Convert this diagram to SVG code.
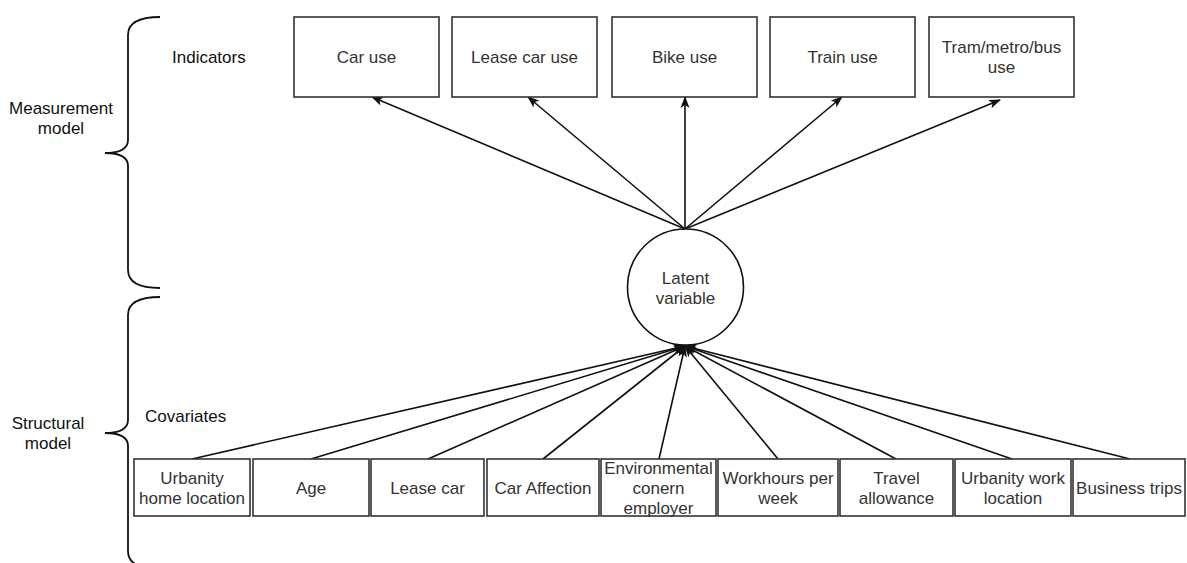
<svg xmlns="http://www.w3.org/2000/svg" width="1187" height="563" viewBox="0 0 1187 563">
<style>
text{font-family:"Liberation Sans",Arial,Helvetica,sans-serif;font-size:17px;fill:#333;text-anchor:middle}
.lbl{fill:#111}
.box{fill:#fff;stroke:#333;stroke-width:1.6}
.brace{fill:none;stroke:#111;stroke-width:1.8}
.edge{fill:none;stroke:#111;stroke-width:1.6;marker-end:url(#arr)}
</style>
<defs>
<marker id="arr" viewBox="0 0 12 10" refX="11" refY="5" markerWidth="12" markerHeight="10" markerUnits="userSpaceOnUse" orient="auto">
<path d="M0,0.5 L12,5 L0,9.5 L3,5 z" fill="#111"/>
</marker>
</defs>
<rect width="1187" height="563" fill="#fff"/>
<g id="braces">
<path class="brace" d="M160,17 Q128,17 128,35 L128,140 Q128,153 105,153 Q128,153 128,166 L128,270 Q128,288 160,288"/>
<path class="brace" d="M160,297 Q128,297 128,315 L128,420 Q128,433 105,433 Q128,433 128,446 L128,551 Q128,569 160,569"/>
</g>
<g id="labels">
<text class="lbl" x="61" y="114">Measurement</text>
<text class="lbl" x="61" y="134">model</text>
<text class="lbl" x="48" y="429">Structural</text>
<text class="lbl" x="48" y="449">model</text>
<text class="lbl" x="172" y="63" style="text-anchor:start">Indicators</text>
<text class="lbl" x="145" y="422" style="text-anchor:start">Covariates</text>
</g>
<g id="connectors">
<line class="edge" x1="685" y1="229" x2="372" y2="97"/>
<line class="edge" x1="685" y1="229" x2="528" y2="97"/>
<line class="edge" x1="685" y1="229" x2="685" y2="97"/>
<line class="edge" x1="685" y1="229" x2="842" y2="97"/>
<line class="edge" x1="685" y1="229" x2="1000" y2="100"/>
<line class="edge" x1="192" y1="459" x2="685" y2="346"/>
<line class="edge" x1="311" y1="459" x2="685" y2="346"/>
<line class="edge" x1="428" y1="459" x2="685" y2="346"/>
<line class="edge" x1="543" y1="459" x2="685" y2="346"/>
<line class="edge" x1="659" y1="459" x2="685" y2="346"/>
<line class="edge" x1="778" y1="459" x2="685" y2="346"/>
<line class="edge" x1="896" y1="459" x2="685" y2="346"/>
<line class="edge" x1="1012" y1="459" x2="685" y2="346"/>
<line class="edge" x1="1130" y1="459" x2="685" y2="346"/>
</g>
<g id="car-use"><rect class="box" x="294" y="17" width="145" height="80"/><text x="366.5" y="63">Car use</text></g>
<g id="lease-car-use"><rect class="box" x="452" y="17" width="145" height="80"/><text x="524.5" y="63">Lease car use</text></g>
<g id="bike-use"><rect class="box" x="612" y="17" width="145" height="80"/><text x="684.5" y="63">Bike use</text></g>
<g id="train-use"><rect class="box" x="770" y="17" width="145" height="80"/><text x="842.5" y="63">Train use</text></g>
<g id="tram-use"><rect class="box" x="929" y="17" width="145" height="80"/><text x="1001.5" y="53">Tram/metro/bus</text><text x="1001.5" y="73">use</text></g>
<g id="latent"><circle cx="685.5" cy="287" r="58" fill="#fff" stroke="#111" stroke-width="1.6"/><text x="685.5" y="284">Latent</text><text x="685.5" y="304">variable</text></g>
<g id="urbanity-home"><rect class="box" x="134" y="459" width="116" height="57"/><text x="192" y="484">Urbanity</text><text x="192" y="504">home location</text></g>
<g id="age"><rect class="box" x="253" y="459" width="116" height="57"/><text x="311" y="494">Age</text></g>
<g id="lease-car"><rect class="box" x="371" y="459" width="113" height="57"/><text x="427.5" y="494">Lease car</text></g>
<g id="car-affection"><rect class="box" x="487" y="459" width="112" height="57"/><text x="543" y="494">Car Affection</text></g>
<g id="environmental"><rect class="box" x="601" y="459" width="115" height="57"/><text x="658.5" y="474">Environmental</text><text x="658.5" y="494">conern</text><text x="658.5" y="514">employer</text></g>
<g id="workhours"><rect class="box" x="718" y="459" width="120" height="57"/><text x="778" y="484">Workhours per</text><text x="778" y="504">week</text></g>
<g id="travel-allowance"><rect class="box" x="840" y="459" width="113" height="57"/><text x="896.5" y="484">Travel</text><text x="896.5" y="504">allowance</text></g>
<g id="urbanity-work"><rect class="box" x="955" y="459" width="116" height="57"/><text x="1013" y="484">Urbanity work</text><text x="1013" y="504">location</text></g>
<g id="business-trips"><rect class="box" x="1073" y="459" width="112" height="57"/><text x="1129" y="494">Business trips</text></g>
</svg>
